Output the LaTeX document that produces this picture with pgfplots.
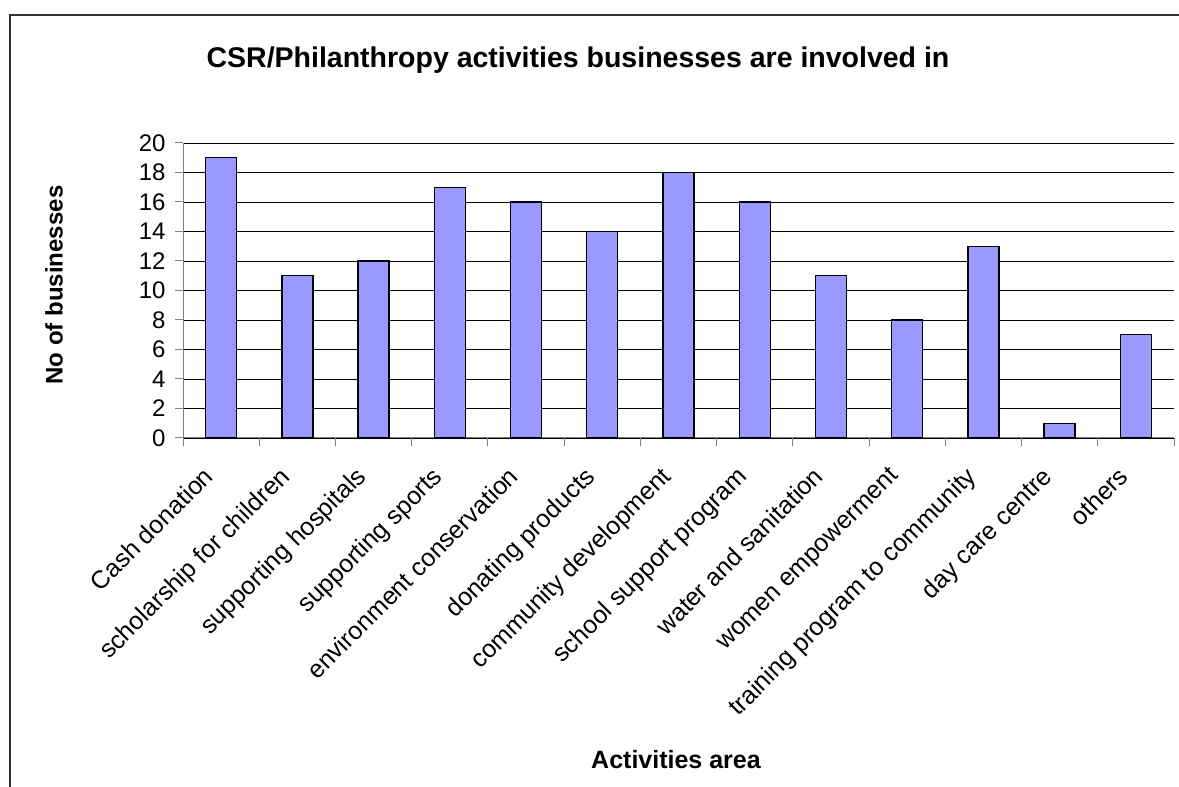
\documentclass[border=0pt]{standalone}
\usepackage{pgfplots}
\pgfplotsset{compat=1.18}
\usepackage{fontspec}
\setmainfont{Liberation Sans}
\definecolor{barblue}{HTML}{9999FF}
\definecolor{axgray}{HTML}{808080}
\begin{document}
\begin{tikzpicture}[x=1pt,y=1pt]
\path[use as bounding box] (0,0) rectangle (1179,787);
\draw[line width=1.2pt, black!80] (10,-5) -- (10,772) -- (1190,772);
\node[font=\fontsize{28.5}{32}\selectfont\bfseries] at (578,727) {CSR/Philanthropy activities businesses are involved in};
\node[font=\fontsize{24}{28}\selectfont\bfseries, rotate=90] at (54,502) {No of businesses};
\node[font=\fontsize{25}{28}\selectfont\bfseries] at (676,27) {Activities area};
\begin{axis}[
  at={(183pt,349pt)}, anchor=south west,
  scale only axis, width=991pt, height=295pt,
  xmin=-0.5, xmax=12.5, ymin=0, ymax=20,
  axis lines=left, axis line style={-, axgray, line width=1pt},
  ytick={0,2,...,20},
  ymajorgrids, grid style={black, line width=0.8pt},
  xtick={0,...,12},
  xticklabels={Cash donation, scholarship for children, supporting hospitals, supporting sports, environment conservation, donating products, community development, school support program, water and sanitation, women empowerment, training program to community, day care centre, others},
  minor xtick={-0.5,0.5,...,12.5},
  major x tick style={draw=none},
  minor x tick style={axgray, line width=1pt},
  y tick style={axgray, line width=1pt},
  tick align=outside,
  major tick length=8pt, minor tick length=8pt,
  /pgf/number format/assume math mode=true,
  yticklabel style={font=\fontsize{24}{24}\selectfont, xshift=-6pt},
  xticklabel style={font=\fontsize{25}{25}\selectfont, rotate=45, anchor=north east, xshift=-27pt, yshift=0pt, inner sep=0pt},
  clip=false,
]
\addplot[ybar, bar width=31pt, fill=barblue, draw=black, line width=1.4pt] coordinates {
(0,19) (1,11) (2,12) (3,17) (4,16) (5,14) (6,18) (7,16) (8,11) (9,8) (10,13) (11,1) (12,7)
};
\end{axis}
\end{tikzpicture}
\end{document}
